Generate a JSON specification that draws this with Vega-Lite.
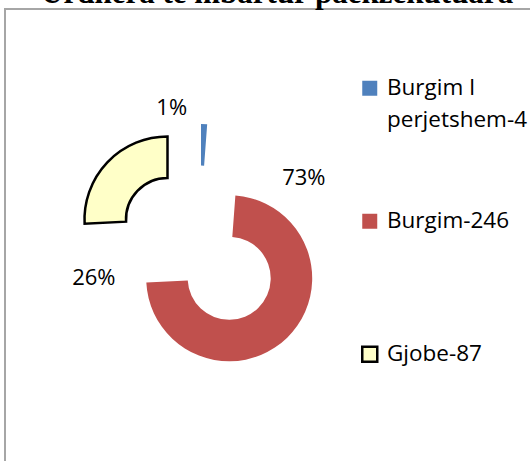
{
  "$schema": "https://vega.github.io/schema/vega-lite/v6.json",
  "autosize": "none",
  "width": 528,
  "height": 455,
  "padding": {"left": 5, "top": 9, "right": -3, "bottom": -3},
  "background": "white",
  "view": {"stroke": "#a6a6a6", "strokeWidth": 2},
  "title": {
    "text": "Urdhera te mbartur paekzekutuara",
    "font": "Liberation Serif",
    "fontSize": 31,
    "fontWeight": "bold",
    "color": "black",
    "anchor": "start",
    "baseline": "alphabetic",
    "offset": 0,
    "dx": 36,
    "dy": 25
  },
  "data": {
    "values": [
      {"category": "Burgim I perjetshem-4", "value": 4, "pct": 0.0119},
      {"category": "Burgim-246", "value": 246, "pct": 0.73},
      {"category": "Gjobe-87", "value": 87, "pct": 0.258}
    ]
  },
  "transform": [
    {"stack": "value", "groupby": [], "sort": [{"field": "category", "order": "ascending"}], "as": ["start", "end"]}
  ],
  "layer": [
    {
      "transform": [{"filter": "datum.category === 'Burgim I perjetshem-4'"}],
      "layer": [
        {
          "mark": {"type": "arc", "innerRadius": 41.5, "outerRadius": 83, "xOffset": -68, "yOffset": -29.4},
          "encoding": {
            "theta": {"field": "start", "type": "quantitative", "stack": null, "scale": {"domain": [0, 337], "zero": true, "nice": false}},
            "theta2": {"field": "end"},
            "color": {
              "field": "category", "type": "nominal",
              "scale": {"domain": ["Burgim I perjetshem-4", "Burgim-246", "Gjobe-87"], "range": ["#4F81BD", "#C0504D", "#FFFFC8"]},
              "legend": {
                "orient": "none", "legendX": 353.5, "legendY": 68, "title": null, "padding": 0,
                "labelFont": "Open Sans", "labelFontSize": 22.5, "labelColor": "black", "labelLimit": 300, "labelOffset": 6,
                "symbolType": "square", "symbolSize": 225, "rowPadding": 76, "gridAlign": "all",
                "labelExpr": "datum.label == 'Burgim I perjetshem-4' ? ['Burgim I', 'perjetshem-4'] : datum.label",
                "encode": {
                  "symbols": {"update": {"stroke": {"signal": "datum.value === 'Gjobe-87' ? 'black' : 'transparent'"}, "strokeWidth": {"value": 2.5}, "strokeJoin": {"value": "miter"}}},
                  "labels": {"update": {"lineHeight": {"value": 32}}}
                }
              }
            }
          }
        },
        {
          "mark": {"type": "text", "radius": 100, "xOffset": -97.3, "yOffset": -29, "font": "Open Sans", "fontSize": 22, "color": "black", "align": "center", "baseline": "middle"},
          "encoding": {
            "theta": {"field": "start", "type": "quantitative", "stack": null, "scale": {"domain": [0, 337], "zero": true, "nice": false}},
            "text": {"field": "pct", "type": "quantitative", "format": ".0%"}
          }
        }
      ]
    },
    {
      "transform": [{"filter": "datum.category === 'Burgim-246'"}],
      "layer": [
        {
          "mark": {"type": "arc", "innerRadius": 41.5, "outerRadius": 83, "xOffset": -39.8, "yOffset": 41.8},
          "encoding": {
            "theta": {"field": "start", "type": "quantitative", "stack": null, "scale": {"domain": [0, 337], "zero": true, "nice": false}},
            "theta2": {"field": "end"},
            "color": {"field": "category", "type": "nominal"}
          }
        },
        {
          "mark": {"type": "text", "radius": 100, "xOffset": 27.4, "yOffset": 41.5, "font": "Open Sans", "fontSize": 22, "color": "black", "align": "center", "baseline": "middle"},
          "encoding": {
            "theta": {"field": "start", "type": "quantitative", "stack": null, "scale": {"domain": [0, 337], "zero": true, "nice": false}},
            "text": {"field": "pct", "type": "quantitative", "format": ".0%"}
          }
        }
      ]
    },
    {
      "transform": [{"filter": "datum.category === 'Gjobe-87'"}],
      "layer": [
        {
          "mark": {"type": "arc", "innerRadius": 41.5, "outerRadius": 83, "xOffset": -101.5, "yOffset": -17, "stroke": "black", "strokeWidth": 2.5, "strokeJoin": "miter"},
          "encoding": {
            "theta": {"field": "start", "type": "quantitative", "stack": null, "scale": {"domain": [0, 337], "zero": true, "nice": false}},
            "theta2": {"field": "end"},
            "color": {"field": "category", "type": "nominal"}
          }
        },
        {
          "mark": {"type": "text", "radius": 80, "xOffset": -95.3, "yOffset": 36.9, "font": "Open Sans", "fontSize": 22, "color": "black", "align": "center", "baseline": "middle"},
          "encoding": {
            "theta": {"field": "start", "type": "quantitative", "stack": null, "scale": {"domain": [0, 337], "zero": true, "nice": false}},
            "text": {"field": "pct", "type": "quantitative", "format": ".0%"}
          }
        }
      ]
    }
  ]
}
